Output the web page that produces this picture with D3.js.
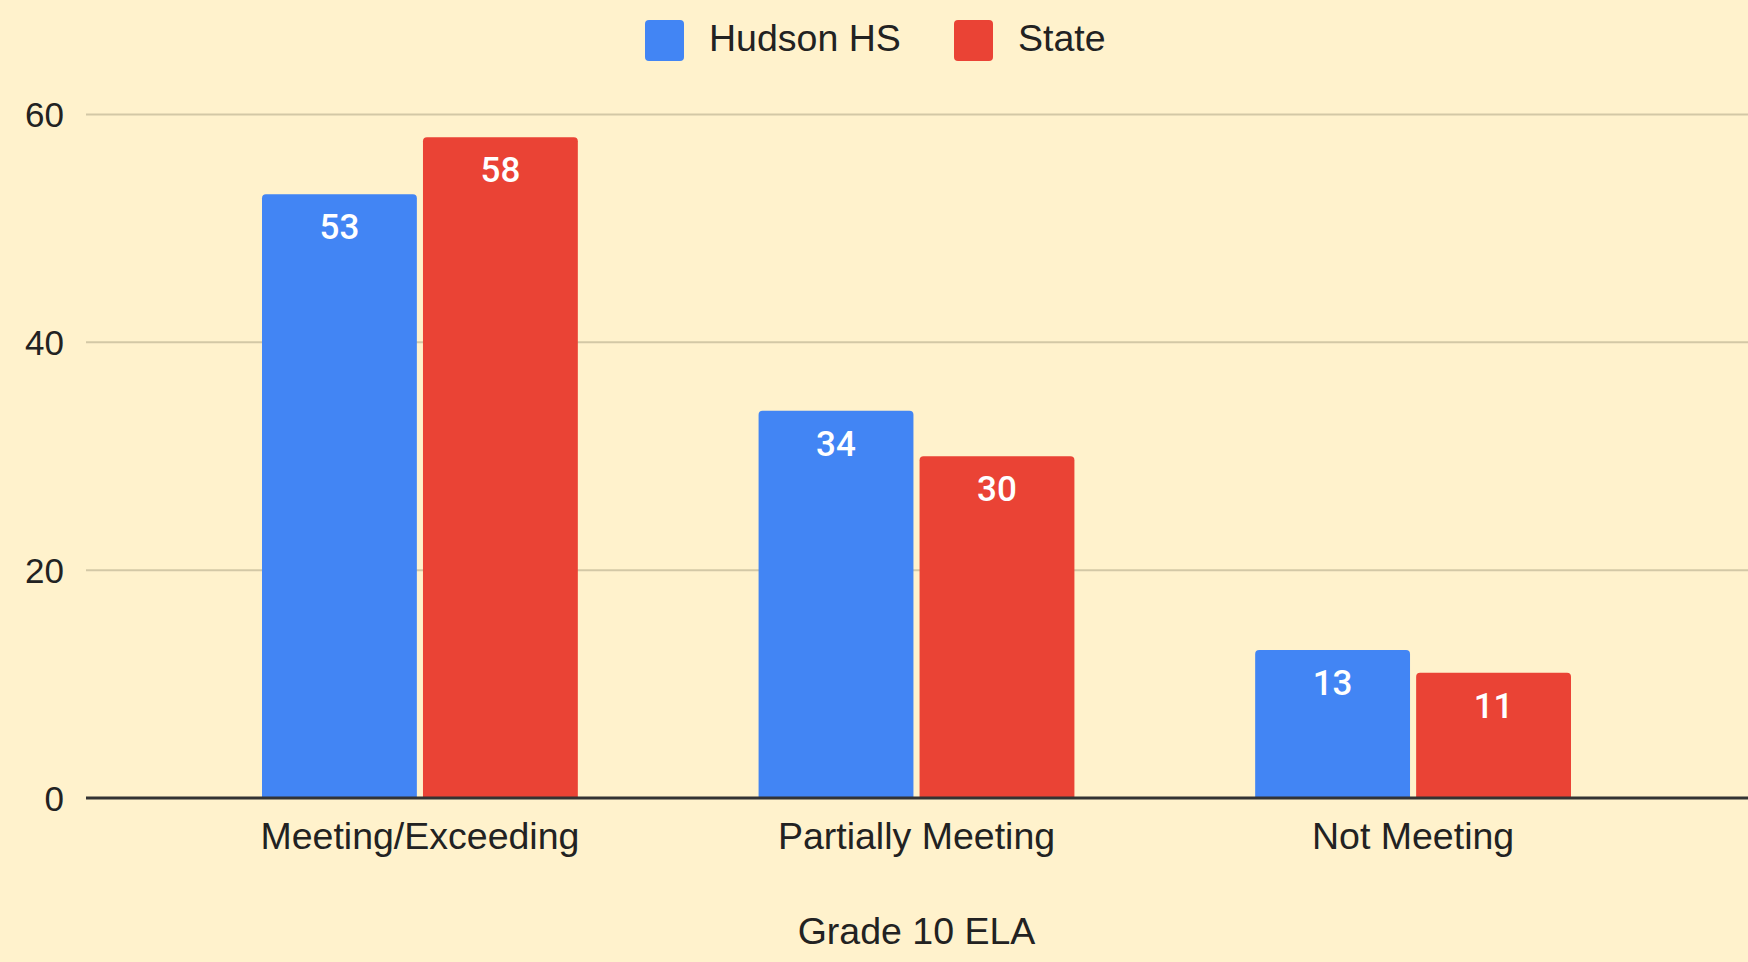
<!DOCTYPE html>
<html>
<head>
<meta charset="utf-8">
<script src="https://cdn.jsdelivr.net/npm/d3@7"></script>
<style>
  html, body { margin: 0; padding: 0; background: #fff2cc; }
  svg { display: block; }
</style>
</head>
<body>
<div id="chart"></div>
<script>
// chart data
const categories = ["Meeting/Exceeding", "Partially Meeting", "Not Meeting"];
const seriesNames = ["Hudson HS", "State"];
const hudson = [53, 34, 13];
const state = [58, 30, 11];
const yTicks = [0, 20, 40, 60];
const xTitle = "Grade 10 ELA";

const colors = ["#4285f4", "#ea4335"];
const seriesValues = [hudson, state];

const width = 1748, height = 962;
const labelFont = "'Liberation Sans', Arial, sans-serif";

const svg = d3.select("#chart").append("svg")
    .attr("width", width)
    .attr("height", height);

svg.append("rect")
    .attr("width", width)
    .attr("height", height)
    .attr("fill", "#fff2cc");

// scales
const x0 = d3.scaleBand()
    .domain(categories)
    .range([262, 1571])
    .paddingInner(0.364)
    .paddingOuter(0);

const x1 = d3.scaleBand()
    .domain(seriesNames)
    .range([0, x0.bandwidth()])
    .paddingInner(0.038);

const y = d3.scaleLinear()
    .domain([0, 60])
    .range([798, 114.5]);

// gridlines
svg.append("g")
    .selectAll("line")
    .data(yTicks.filter(d => d !== 0))
    .join("line")
    .attr("x1", 86)
    .attr("x2", width)
    .attr("y1", d => y(d))
    .attr("y2", d => y(d))
    .attr("stroke", "#d3c8a6")
    .attr("stroke-width", 2);

// y axis labels
const yAxis = d3.axisLeft(y).tickValues(yTicks).tickSize(0).tickPadding(0);
svg.append("g")
    .attr("transform", "translate(64,0)")
    .call(yAxis)
    .call(g => g.select(".domain").remove())
    .selectAll("text")
    .attr("font-family", labelFont)
    .attr("font-size", 35)
    .attr("fill", "#222")
    .attr("dy", "0.35em");

// bars
const rows = categories.map((c, i) => ({
    cat: c,
    vals: seriesNames.map((s, j) => ({ series: s, idx: j, value: seriesValues[j][i] }))
}));

const groups = svg.append("g")
    .selectAll("g")
    .data(rows)
    .join("g")
    .attr("transform", d => "translate(" + x0(d.cat) + ",0)");

const r = 4;
groups.selectAll("path")
    .data(d => d.vals)
    .join("path")
    .attr("fill", d => colors[d.idx])
    .attr("d", d => {
        let x = x1(d.series), w = x1.bandwidth();
        let top = y(d.value), bot = y(0);
        return "M" + x + "," + bot +
            "V" + (top + r) +
            "Q" + x + "," + top + " " + (x + r) + "," + top +
            "H" + (x + w - r) +
            "Q" + (x + w) + "," + top + " " + (x + w) + "," + (top + r) +
            "V" + bot + "Z";
    });

groups.selectAll("text")
    .data(d => d.vals)
    .join("text")
    .attr("x", d => x1(d.series) + x1.bandwidth() / 2)
    .attr("y", d => y(d.value) + 45)
    .attr("text-anchor", "middle")
    .attr("font-family", "Roboto, sans-serif")
    .attr("font-weight", 500)
    .attr("font-size", 35)
    .attr("fill", "#ffffff")
    .text(d => d.value);

// baseline
svg.append("line")
    .attr("x1", 86)
    .attr("x2", width)
    .attr("y1", y(0))
    .attr("y2", y(0))
    .attr("stroke", "#333")
    .attr("stroke-width", 3);

// x axis labels
const xAxis = d3.axisBottom(x0).tickSize(0).tickPadding(0);
svg.append("g")
    .attr("transform", "translate(0," + y(0) + ")")
    .call(xAxis)
    .call(g => g.select(".domain").remove())
    .selectAll("text")
    .attr("font-family", labelFont)
    .attr("font-size", 37.5)
    .attr("fill", "#222")
    .attr("dy", null)
    .attr("y", 51);

// x title
svg.append("text")
    .attr("x", (x0.range()[0] + x0.range()[1]) / 2)
    .attr("y", 944)
    .attr("text-anchor", "middle")
    .attr("font-family", labelFont)
    .attr("font-size", 37.5)
    .attr("fill", "#222")
    .text(xTitle);

// legend
const legendX = [645, 954];
const legend = svg.append("g")
    .selectAll("g")
    .data(seriesNames)
    .join("g")
    .attr("transform", (d, i) => "translate(" + legendX[i] + ",20)");

legend.append("rect")
    .attr("width", 39)
    .attr("height", 41)
    .attr("rx", 4)
    .attr("fill", (d, i) => colors[i]);

legend.append("text")
    .attr("x", 64)
    .attr("y", 31)
    .attr("font-family", labelFont)
    .attr("font-size", 37.5)
    .attr("fill", "#222")
    .text(d => d);
</script>
</body>
</html>
